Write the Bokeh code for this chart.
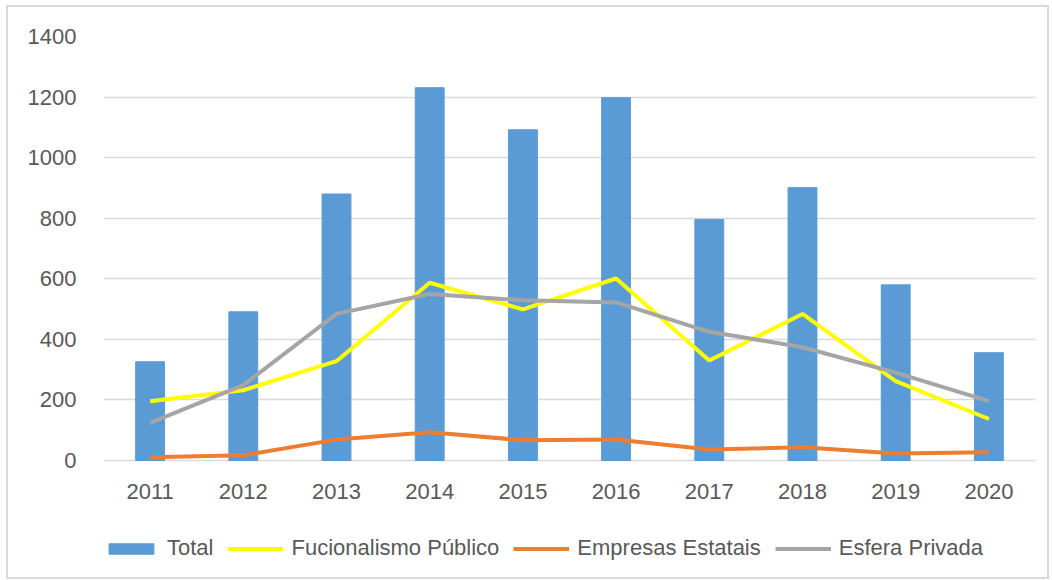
from bokeh.plotting import figure
from bokeh.models import ColumnDataSource, Legend, LegendItem, FactorRange, Range1d
from bokeh.core.properties import value
from bokeh.embed import file_html
from bokeh.resources import INLINE

years = ["2011", "2012", "2013", "2014", "2015", "2016", "2017", "2018", "2019", "2020"]
total = [326, 491, 880, 1231, 1092, 1198, 796, 901, 580, 356]
funcionalismo = [196, 232, 328, 587, 499, 601, 330, 484, 262, 137]
estatais = [11, 17, 69, 93, 67, 69, 36, 44, 23, 27]
privada = [124, 249, 484, 550, 529, 522, 425, 374, 290, 196]
y_ticks = [0, 200, 400, 600, 800, 1000, 1200, 1400]

FONT = "Liberation Sans"
TXT = "#595959"

src = ColumnDataSource(dict(x=years, total=total, f=funcionalismo, e=estatais, p=privada,
                            base=[0 for _ in years]))

# frame extends below the value axis so the category labels and legend sit inside it
PX_PER_UNIT = 424 / 1400
FRAME_H = 541
y_start = -(FRAME_H - 424) / PX_PER_UNIT

p = figure(x_range=FactorRange(*years), y_range=Range1d(y_start, 1400),
           frame_width=932, frame_height=FRAME_H, output_backend="svg", toolbar_location=None,
           x_axis_location=None,
           min_border_left=95, min_border_right=12, min_border_top=29, min_border_bottom=0,
           styles={"margin-left": "6px", "margin-top": "5px",
                   "border": "2px solid #D9D9D9"})
p.outline_line_color = None
p.border_fill_color = "white"
p.background_fill_color = "white"

bars = p.vbar(x="x", top="total", width=0.31, source=src, color="#5B9BD5")
l1 = p.line(x="x", y="f", source=src, line_color="#FFFF00", line_width=4)
l2 = p.line(x="x", y="e", source=src, line_color="#ED7D31", line_width=4)
l3 = p.line(x="x", y="p", source=src, line_color="#A5A5A5", line_width=4)

# category labels under the baseline
p.text(x="x", y="base", text="x", source=src, text_font=value(FONT), text_font_size="22px",
       text_color=TXT, text_align="center", text_baseline="middle", y_offset=31)

p.xgrid.grid_line_color = None
p.ygrid.grid_line_color = "#D9D9D9"
p.ygrid.grid_line_width = 1.3
p.yaxis.ticker = y_ticks
ax = p.yaxis[0]
ax.axis_line_color = None
ax.major_tick_line_color = None
ax.minor_tick_line_color = None
ax.major_label_text_font = FONT
ax.major_label_text_font_size = "22px"
ax.major_label_text_color = TXT
ax.major_label_standoff = 21

legend = Legend(items=[
    LegendItem(label="Total", renderers=[bars]),
    LegendItem(label="Fucionalismo Público", renderers=[l1]),
    LegendItem(label="Empresas Estatais", renderers=[l2]),
    LegendItem(label="Esfera Privada", renderers=[l3]),
], orientation="horizontal", location=(0, 16))
legend.label_text_font = FONT
legend.label_text_font_size = "22px"
legend.label_text_color = TXT
legend.border_line_color = None
legend.background_fill_alpha = 0
legend.glyph_width = 56
legend.glyph_height = 13
legend.spacing = 14
legend.label_standoff = 8
legend.margin = 0
legend.padding = 2
p.add_layout(legend, "center")

open("out.html", "w").write(file_html(p, INLINE))
